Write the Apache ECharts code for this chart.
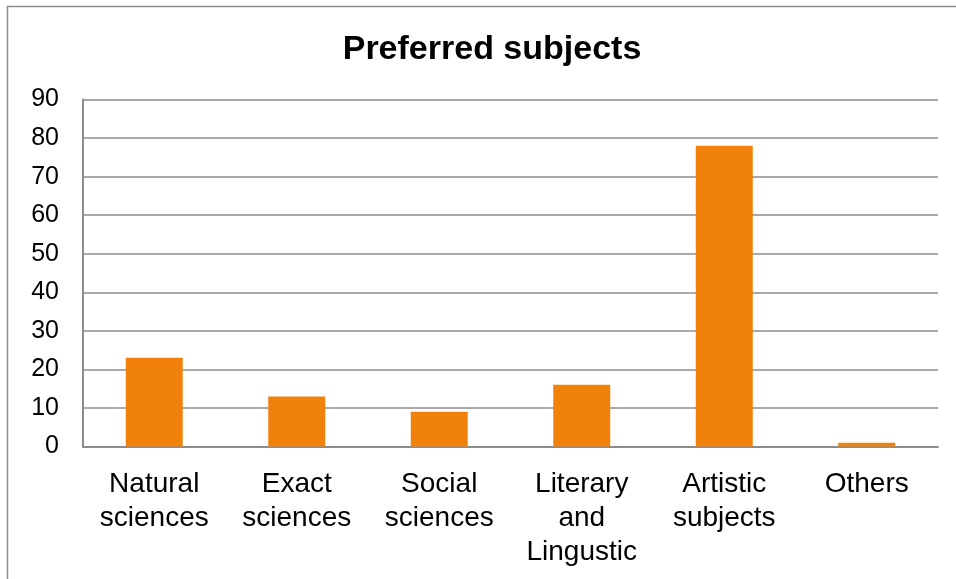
<!DOCTYPE html>
<html>
<head>
<meta charset="utf-8">
<script src="https://cdn.jsdelivr.net/npm/echarts@6/dist/echarts.min.js"></script>
<style>html,body{margin:0;padding:0;background:#fff;}#c{width:956px;height:579px;}</style>
</head>
<body>
<div id="c"></div>
<script>
const categories = ['Natural\nsciences', 'Exact\nsciences', 'Social\nsciences', 'Literary\nand\nLingustic', 'Artistic\nsubjects', 'Others'];
const values = [23, 13, 9, 16, 78, 1];
const titleText = 'Preferred subjects';

const chart = echarts.init(document.getElementById('c'));
chart.setOption({
  animation: false,
  backgroundColor: '#fff',
  title: {
    text: titleText,
    left: 487,
    textAlign: 'center',
    top: 28,
    textStyle: { fontFamily: 'Liberation Sans, Arial', fontSize: 34, fontWeight: 'bold', color: '#000' }
  },
  graphic: [{
    type: 'rect',
    shape: { x: 7.5, y: 6.5, width: 1000, height: 1000 },
    style: { fill: 'none', stroke: '#8c8c8c', lineWidth: 1.5 },
    silent: true
  }],
  grid: { left: 83, right: 18, top: 99.5, bottom: 132.5 },
  xAxis: {
    type: 'category',
    data: categories,
    axisTick: { show: false },
    axisLine: { lineStyle: { color: '#8c8c8c', width: 2 } },
    axisLabel: {
      fontFamily: 'Liberation Sans, Arial', fontSize: 28, color: '#000',
      lineHeight: 34, margin: 21, interval: 0
    }
  },
  yAxis: {
    type: 'value',
    min: 0, max: 90, interval: 10,
    axisLine: { show: true, lineStyle: { color: '#8c8c8c', width: 2 } },
    axisTick: { show: false },
    splitLine: { lineStyle: { color: '#8c8c8c', width: 1.5 } },
    axisLabel: { fontFamily: 'Liberation Sans, Arial', fontSize: 25, color: '#000', margin: 24, padding: [4, 0, 0, 0] }
  },
  series: [{
    type: 'bar',
    data: values,
    barWidth: '40%',
    itemStyle: { color: '#f0820c' }
  }]
});
</script>
</body>
</html>
